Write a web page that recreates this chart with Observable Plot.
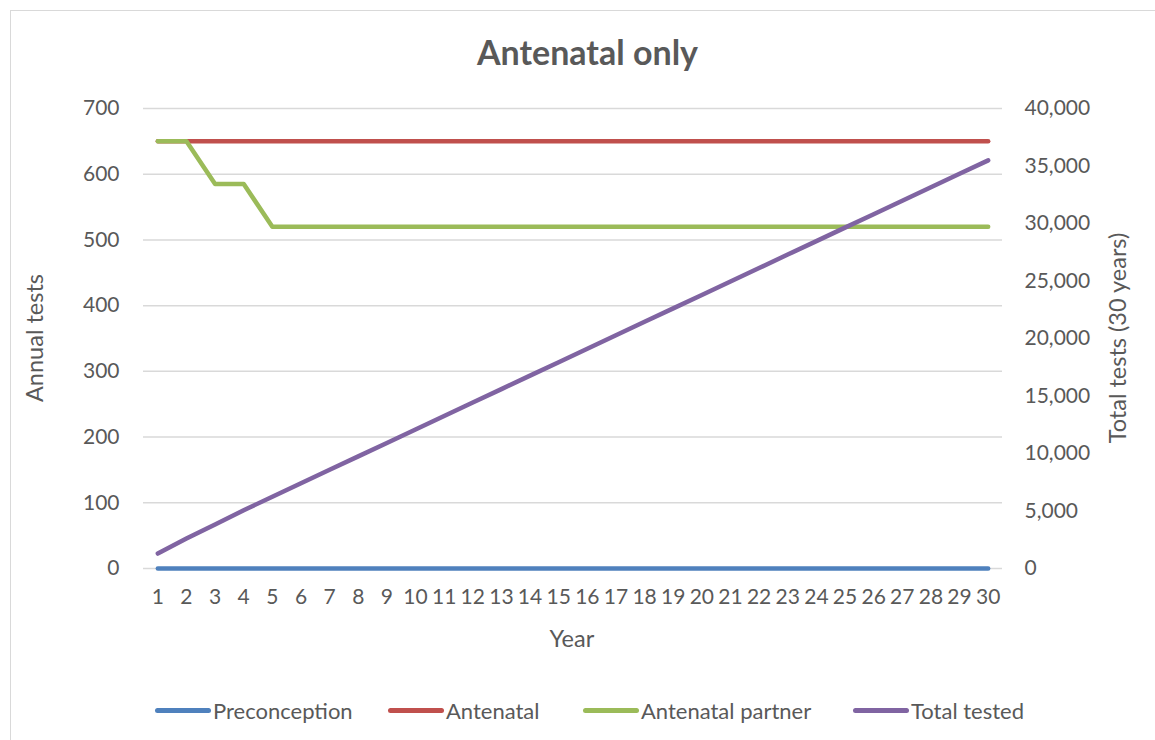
<!DOCTYPE html>
<html>
<head>
<meta charset="utf-8">
<script src="https://cdn.jsdelivr.net/npm/d3@7"></script>
<script src="https://cdn.jsdelivr.net/npm/@observablehq/plot@0.6"></script>
<style>
  html, body { margin: 0; padding: 0; background: #fff; }
  #wrap { position: relative; width: 1155px; height: 740px; overflow: hidden; font-family: Lato, "Open Sans", sans-serif; color: #595959; }
  #border { position: absolute; left: 10px; top: 10px; width: 1200px; height: 800px; border-left: 1.5px solid #d9d9d9; border-top: 1.5px solid #d9d9d9; }
  #title { position: absolute; left: 0; width: 1175px; top: 31px; text-align: center; font-size: 34px; font-weight: bold; }
  #legend { position: absolute; top: 696px; left: 0; width: 1155px; height: 28px; font-size: 22px; }
  .item { position: absolute; top: 0; display: flex; align-items: center; height: 28px; }
  .swatch { width: 56px; height: 5px; border-radius: 3px; margin-right: 2px; }
  #plot { position: absolute; left: 0; top: 0; }
  .alabel { position: absolute; font-size: 23.5px; white-space: nowrap; transform-origin: center center; }
</style>
</head>
<body>
<div id="wrap">
  <div id="border"></div>
  <div id="plot"></div>
  <div id="title">Antenatal only</div>
  <div class="alabel" id="ylabel">Annual tests</div>
  <div class="alabel" id="y2label">Total tests (30 years)</div>
  <div class="alabel" id="xlabel">Year</div>
  <div id="legend"></div>
</div>
<script>
const years = d3.range(1, 31);
const preconception = Array(30).fill(0);
const antenatal = Array(30).fill(650);
const antenatalPartner = [650, 650, 585, 585, 520, 520, 520, 520, 520, 520, 520, 520, 520, 520, 520, 520, 520, 520, 520, 520, 520, 520, 520, 520, 520, 520, 520, 520, 520, 520];
const totalTested = [1300, 2600, 3835, 5070, 6240, 7410, 8580, 9750, 10920, 12090, 13260, 14430, 15600, 16770, 17940, 19110, 20280, 21450, 22620, 23790, 24960, 26130, 27300, 28470, 29640, 30810, 31980, 33150, 34320, 35490];
const leftTicks = [0, 100, 200, 300, 400, 500, 600, 700];
const rightTicks = [0, 5000, 10000, 15000, 20000, 25000, 30000, 35000, 40000];
const seriesNames = ["Preconception", "Antenatal", "Antenatal partner", "Total tested"];
const seriesColors = ["#4F81BD", "#C0504D", "#9BBB59", "#8064A2"];

const leftMax = 700, rightMax = 40000;
const toLeft = v => v * leftMax / rightMax;

const rows = [];
years.forEach((yr, i) => {
  rows.push({year: yr, series: seriesNames[0], value: preconception[i]});
  rows.push({year: yr, series: seriesNames[1], value: antenatal[i]});
  rows.push({year: yr, series: seriesNames[2], value: antenatalPartner[i]});
  rows.push({year: yr, series: seriesNames[3], value: toLeft(totalTested[i])});
});

const font = "Lato, 'Open Sans', sans-serif";
const chart = Plot.plot({
  width: 1155,
  height: 740,
  marginTop: 108,
  marginBottom: 172,
  marginLeft: 143,
  marginRight: 153,
  style: {fontFamily: font, fontSize: "21px", color: "#595959", background: "transparent", overflow: "visible"},
  x: {domain: [0.5, 30.5]},
  y: {domain: [0, leftMax]},
  color: {domain: seriesNames, range: seriesColors},
  marks: [
    Plot.gridY(leftTicks, {stroke: "#d9d9d9", strokeOpacity: 1, strokeWidth: 1.5}),
    Plot.axisY(leftTicks, {anchor: "left", tickSize: 0, tickPadding: 24, label: null, fontSize: 21}),
    Plot.axisY(rightTicks.map(toLeft), {anchor: "right", tickSize: 0, tickPadding: 22, tickFormat: d => d3.format(",")(Math.round(d * rightMax / leftMax)), label: null, fontSize: 21}),
    Plot.axisX(years, {anchor: "bottom", tickSize: 0, tickPadding: 21, label: null, fontSize: 21}),
    Plot.line(rows, {x: "year", y: "value", stroke: "series", z: "series", strokeWidth: 4.5, strokeLinecap: "round", strokeLinejoin: "round"})
  ]
});
document.getElementById("plot").appendChild(chart);

function placeLabel(id, cx, cy, rot) {
  const el = document.getElementById(id);
  const w = el.offsetWidth, h = el.offsetHeight;
  el.style.left = (cx - w / 2) + "px";
  el.style.top = (cy - h / 2) + "px";
  if (rot) el.style.transform = "rotate(" + rot + "deg)";
}
placeLabel("ylabel", 34, 338, -90);
placeLabel("y2label", 1117, 338, -90);
placeLabel("xlabel", 572, 638, 0);

const legendX = [155, 388, 583, 853];
const legend = document.getElementById("legend");
seriesNames.forEach((name, i) => {
  const it = document.createElement("div");
  it.className = "item";
  it.style.left = legendX[i] + "px";
  const sw = document.createElement("div");
  sw.className = "swatch";
  sw.style.background = seriesColors[i];
  const tx = document.createElement("span");
  tx.textContent = name;
  it.appendChild(sw); it.appendChild(tx);
  legend.appendChild(it);
});
</script>
</body>
</html>
